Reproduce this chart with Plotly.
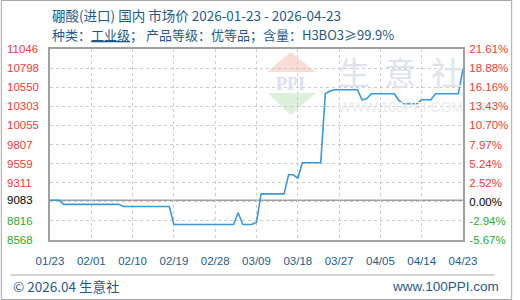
import plotly.graph_objects as go

# ---- data ----
dates = ["2026-01-23", "2026-01-25", "2026-01-26", "2026-02-07", "2026-02-08",
         "2026-02-18", "2026-02-19", "2026-03-04", "2026-03-05", "2026-03-06",
         "2026-03-08", "2026-03-09", "2026-03-10", "2026-03-15", "2026-03-16",
         "2026-03-17", "2026-03-18", "2026-03-19", "2026-03-23", "2026-03-24",
         "2026-03-25", "2026-03-26", "2026-03-31", "2026-04-01", "2026-04-02",
         "2026-04-03", "2026-04-08", "2026-04-09", "2026-04-10", "2026-04-13",
         "2026-04-14", "2026-04-16", "2026-04-17", "2026-04-22", "2026-04-23"]
prices = [9083, 9083, 9030, 9030, 9003,
          9003, 8769, 8769, 8921, 8769,
          8769, 8800, 9167, 9167, 9414,
          9414, 9370, 9570, 9570, 10465,
          10500, 10517, 10517, 10387, 10400,
          10465, 10465, 10380, 10335, 10335,
          10387, 10387, 10465, 10465, 10790]

x_tick_dates = ["2026-01-23", "2026-02-01", "2026-02-10", "2026-02-19", "2026-02-28",
                "2026-03-09", "2026-03-18", "2026-03-27", "2026-04-05", "2026-04-14",
                "2026-04-23"]
x_tick_labels = ["01/23", "02/01", "02/10", "02/19", "02/28", "03/09", "03/18",
                 "03/27", "04/05", "04/14", "04/23"]

y_labels_left = ["8568", "8816", "9083", "9311", "9559", "9807", "10055",
                 "10303", "10550", "10798", "11046"]
y_labels_right = ["-5.67%", "-2.94%", "0.00%", "2.52%", "5.24%", "7.97%",
                  "10.70%", "13.43%", "16.16%", "18.88%", "21.61%"]
y_min, y_max = 8568, 11046
base_price = 9083

title_line1 = "硼酸(进口) 国内 市场价 2026-01-23 - 2026-04-23"
title_line2 = ("种类：<span style='text-decoration:underline'>工业级</span>； "
               "产品等级：优等品；含量：H3BO3≥99.9%")

# ---- styling ----
RED, GREEN, BLACK = "#f03a3a", "#2ea82e", "#000000"
BLUE_TXT = "#1f5b8a"
LINE = "#3a9ad9"
GRID = "#cccccc"
TICKFONT = dict(family="Liberation Sans, Arial, sans-serif", size=11.5)

n = len(y_labels_left)
tickvals = [y_min + i * (y_max - y_min) / (n - 1) for i in range(n)]


def label_color(i):
    if i < 2:
        return GREEN
    if i == 2:
        return BLACK
    return RED


fig = go.Figure()
fig.add_trace(go.Scatter(x=dates, y=prices, mode="lines",
                         line=dict(color=LINE, width=1.6),
                         hoverinfo="skip", showlegend=False))
# invisible trace to activate right axis
fig.add_trace(go.Scatter(x=[dates[0]], y=[prices[0]], yaxis="y2", mode="markers",
                         marker=dict(opacity=0), hoverinfo="skip", showlegend=False))

L, R, T, B = 50, 50, 49, 60
W, H = 520, 300
PW, PH = W - L - R, H - T - B


def px(x):
    return (x - L) / PW


def py(y):
    return (H - B - y) / PH


fig.update_layout(
    width=W, height=H,
    margin=dict(l=L, r=R, t=T, b=B, pad=0),
    paper_bgcolor="white", plot_bgcolor="white",
    showlegend=False,
    xaxis=dict(
        type="date", range=[x_tick_dates[0], x_tick_dates[-1]],
        tickvals=x_tick_dates, ticktext=x_tick_labels,
        tickfont=dict(color=BLUE_TXT, **TICKFONT),
        ticks="outside", ticklen=9, tickcolor="rgba(0,0,0,0)",
        showgrid=True, gridcolor=GRID, griddash="3px,3px", gridwidth=1,
        showline=True, linecolor="#a0a0a0", linewidth=1.5, mirror=True,
        zeroline=False, fixedrange=True,
    ),
    yaxis=dict(
        range=[y_min, y_max], tickvals=tickvals, showticklabels=False,
        ticks="", showgrid=True, gridcolor=GRID, griddash="3px,3px", gridwidth=1,
        showline=True, linecolor="#a0a0a0", linewidth=1.5, mirror=True,
        zeroline=False, fixedrange=True,
    ),
    yaxis2=dict(
        range=[y_min, y_max], tickvals=tickvals,
        ticktext=[f"<span style='color:{label_color(i)}'>{t}</span>"
                  for i, t in enumerate(y_labels_right)],
        tickfont=TICKFONT, overlaying="y", side="right",
        ticks="outside", ticklen=3, tickcolor="rgba(0,0,0,0)",
        showgrid=False, zeroline=False, showline=False, fixedrange=True,
    ),
)

shapes = [
    # baseline at the starting price
    dict(type="line", xref="paper", x0=0, x1=1, yref="y", y0=base_price, y1=base_price,
         line=dict(color="#a0a0a0", width=1.5), layer="below"),
    # outer frame
    dict(type="rect", xref="paper", yref="paper",
         x0=px(0.5), x1=px(519.5), y0=py(299.5), y1=py(0.5),
         line=dict(color="#a8a8a8", width=1)),
    # footer separator
    dict(type="line", xref="paper", yref="paper",
         x0=px(10), x1=px(502), y0=py(275), y1=py(275),
         line=dict(color="#a8a8a8", width=1)),
    # watermark logo triangles
    dict(type="path", xref="paper", yref="paper", layer="below",
         path=f"M {px(295)} {py(52)} L {px(271)} {py(72)} L {px(320)} {py(72)} Z",
         fillcolor="#fadcd6", line=dict(width=0)),
    dict(type="path", xref="paper", yref="paper", layer="below",
         path=f"M {px(271)} {py(93)} L {px(320)} {py(93)} L {px(295)} {py(115)} Z",
         fillcolor="#dcf0dc", line=dict(width=0)),
]
fig.update_layout(shapes=shapes)

ann = [
    dict(text=title_line1, x=px(50), y=py(15), xanchor="left", yanchor="middle",
         font=dict(family="Noto Sans CJK SC", size=13.5, color=BLUE_TXT)),
    dict(text=title_line2, x=px(50), y=py(34), xanchor="left", yanchor="middle",
         font=dict(family="Noto Sans CJK SC", size=13, color=BLUE_TXT)),
    dict(text="© 2026.04 生意社", x=px(10), y=py(286), xanchor="left", yanchor="middle",
         font=dict(family="Noto Sans CJK SC", size=13.5, color=BLUE_TXT)),
    dict(text="www.100PPI.com", x=px(509), y=py(286), xanchor="right", yanchor="middle",
         font=dict(family="Liberation Sans, Arial", size=13.5, color=BLUE_TXT)),
    # watermark texts
    dict(text="生\u00a0\u00a0意\u00a0\u00a0社", x=px(406), y=py(71), xanchor="center",
         yanchor="middle",
         font=dict(family="Noto Sans CJK SC", size=32, color="#dfe3ed")),
    dict(text="WWW.100PPI.COM", x=px(406), y=py(106.5), xanchor="center", yanchor="middle",
         font=dict(family="Liberation Sans, Arial", size=14, color="#ebebeb")),
    dict(text="<b>PPI</b>", x=px(295), y=py(84), xanchor="center", yanchor="middle",
         font=dict(family="Liberation Serif, serif", size=18, color="#d9e0ee")),
]
for a in ann:
    a.update(xref="paper", yref="paper", showarrow=False)

# left axis labels, left-aligned as in the reference (9083 sits on the baseline)
for i, t in enumerate(y_labels_left):
    yv = base_price if i == 2 else tickvals[i]
    ann.append(dict(text=t, xref="paper", x=px(4), xanchor="left",
                    yref="y", y=yv, yanchor="middle", showarrow=False,
                    font=dict(color=label_color(i), **TICKFONT)))
fig.update_layout(annotations=ann)

fig.write_html("out.html")
